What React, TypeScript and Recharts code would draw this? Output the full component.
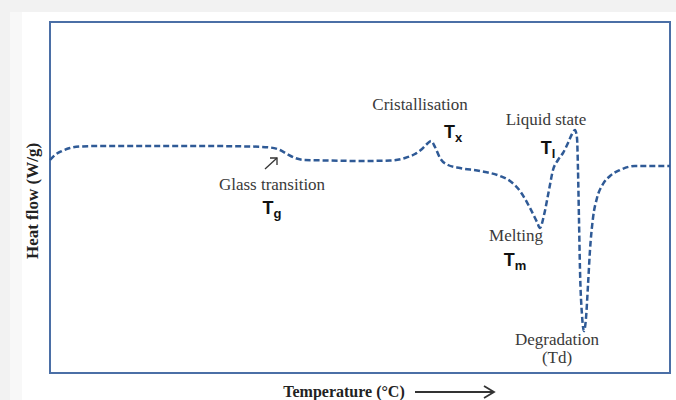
import React from 'react'
import { LineChart, Line, XAxis, YAxis, ReferenceArea } from 'recharts'

// DSC trace, arbitrary units
const temperature = [
  0, 5, 12, 20, 30, 50, 100, 150, 200, 220, 230, 237, 245, 255, 280, 310, 340, 355, 365, 372,
  377, 381, 385, 390, 398, 410, 430, 450, 460, 470, 480, 487, 490, 494, 499, 503, 508, 513,
  518, 522, 525, 527, 528, 529, 530, 532, 534, 536, 538, 540, 543, 547, 553, 560, 570, 585,
  600, 620,
]
const heatFlow = [
  213, 218, 222, 225, 226.5, 227, 227, 227, 226.5, 225.5, 223, 219, 215, 213, 212.5, 212,
  212.5, 215, 219, 224, 229, 232, 226, 215, 208, 205, 202, 197, 192, 182, 165, 151, 145, 158,
  183, 203, 213, 220, 230, 239, 243, 235, 203, 153, 103, 58, 42, 55, 88, 123, 155, 175, 189,
  197, 203, 207, 207, 207,
]

const data = temperature.map((t, i) => ({ t, h: heatFlow[i] }))

const serif = '"Liberation Serif", "DejaVu Serif", serif'
const sans = '"Liberation Sans", Arial, sans-serif'

const note: React.CSSProperties = {
  position: 'absolute',
  fontFamily: serif,
  fontSize: 17,
  color: '#3a3a3a',
  transform: 'translate(-50%, -50%)',
  whiteSpace: 'nowrap',
}
const sym: React.CSSProperties = {
  position: 'absolute',
  fontFamily: sans,
  fontSize: 18,
  fontWeight: 'bold',
  color: '#111',
  transform: 'translate(-50%, -50%)',
  whiteSpace: 'nowrap',
}

const Sym = ({ x, y, sub }: { x: number; y: number; sub: string }) => (
  <div style={{ ...sym, left: x, top: y }}>
    T<sub style={{ fontSize: 13, verticalAlign: 'sub', lineHeight: 0 }}>{sub}</sub>
  </div>
)

export default function App() {
  return (
    <div style={{ position: 'absolute', left: 0, top: 0, width: 676, height: 400, background: '#f2f2f2', overflow: 'hidden' }}>
      <div style={{ position: 'absolute', left: 10, top: 12, width: 666, height: 388, background: '#f8f8f8' }} />
      <div style={{ position: 'absolute', left: 22, top: 12, width: 654, height: 388, background: '#fff' }} />
      <div style={{ position: 'absolute', left: 0, top: 0 }}>
        <LineChart width={676} height={400} data={data} margin={{ top: 22, right: 6, bottom: 27, left: 50 }}>
          <XAxis dataKey="t" type="number" domain={[0, 620]} hide />
          <YAxis type="number" domain={[0, 351]} hide />
          <ReferenceArea x1={0} x2={620} y1={0} y2={351} fill="none" stroke="#4b6fa6" strokeWidth={2} ifOverflow="extendDomain" />
          <Line
            type="monotone"
            dataKey="h"
            stroke="#2f5a96"
            strokeWidth={2.5}
            strokeDasharray="6 3"
            dot={false}
            activeDot={false}
            isAnimationActive={false}
          />
        </LineChart>
      </div>

      {/* annotations */}
      <div style={{ ...note, left: 272, top: 185 }}>Glass transition</div>
      <Sym x={272} y={208} sub="g" />
      <svg style={{ position: 'absolute', left: 0, top: 0 }} width={676} height={400}>
        <g stroke="#333" strokeWidth={1.3} fill="none">
          <line x1={265} y1={169} x2={277} y2={158} />
          <polyline points="270,158 277,158 277,165" />
          <line x1={415} y1={392} x2={493} y2={392} strokeWidth={1.8} />
          <polyline points="484,386 494,392 484,398" strokeWidth={1.8} />
        </g>
      </svg>
      <div style={{ ...note, left: 420, top: 105 }}>Cristallisation</div>
      <Sym x={453} y={132} sub="x" />
      <div style={{ ...note, left: 546, top: 120 }}>Liquid state</div>
      <Sym x={548} y={148} sub="l" />
      <div style={{ ...note, left: 516, top: 236 }}>Melting</div>
      <Sym x={515} y={260} sub="m" />
      <div style={{ ...note, left: 557, top: 340 }}>Degradation</div>
      <div style={{ ...note, left: 557, top: 358 }}>(Td)</div>

      {/* axis titles */}
      <div
        style={{
          position: 'absolute',
          left: 33,
          top: 201,
          transform: 'translate(-50%, -50%) rotate(-90deg)',
          fontFamily: serif,
          fontSize: 17,
          fontWeight: 'bold',
          color: '#222',
          whiteSpace: 'nowrap',
        }}
      >
        Heat flow (W/g)
      </div>
      <div style={{ ...note, left: 344, top: 392, fontSize: 16, fontWeight: 'bold', color: '#222' }}>Temperature (°C)</div>
    </div>
  )
}
